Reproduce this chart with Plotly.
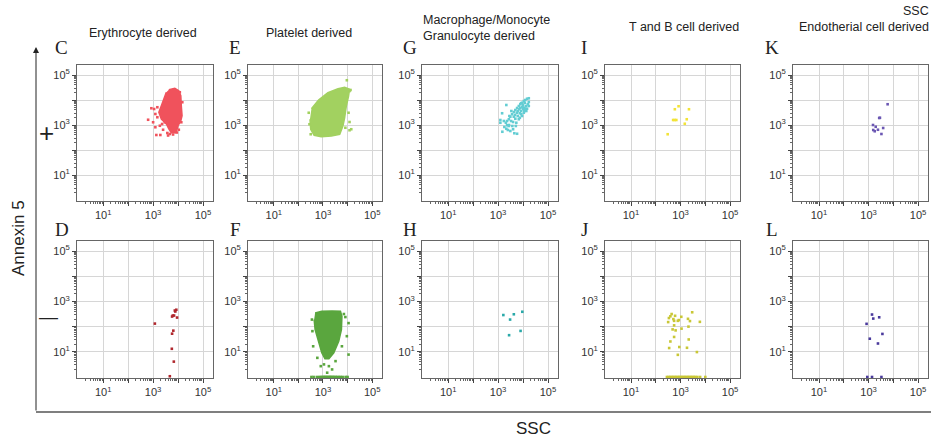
import plotly.graph_objects as go

# ---------------- data (log10 of SSC / Annexin 5) ----------------
# C  Erythrocyte derived, Annexin+ : dense cloud outline + scattered events
c_cloud_ssc = [3.63, 3.87, 4.03, 4.11, 4.13, 4.16, 4.11, 4.00, 3.93, 3.73, 3.63, 3.53, 3.33, 3.23, 3.33, 3.44, 3.53]
c_cloud_ann = [4.41, 4.47, 4.37, 4.17, 3.77, 3.37, 3.17, 2.97, 2.73, 2.68, 2.84, 3.04, 3.24, 3.51, 3.77, 4.04, 4.31]
c_pts_ssc = [2.80, 2.93, 3.04, 3.09, 3.17, 3.09, 3.13, 3.29, 3.27, 3.40, 3.47, 3.57, 3.67, 3.87, 4.03, 4.13, 4.17, 4.07, 3.17, 3.31, 3.00, 3.36, 3.80, 3.95, 3.60]
c_pts_ann = [3.21, 3.67, 3.64, 3.44, 3.31, 2.91, 2.60, 2.60, 2.97, 2.81, 3.11, 2.68, 2.64, 2.71, 2.81, 3.11, 3.91, 4.31, 3.71, 3.53, 3.11, 3.04, 2.62, 2.70, 2.58]

# D  Erythrocyte derived, Annexin-
d_ssc = [3.07, 3.87, 3.93, 3.89, 3.79, 3.84, 3.76, 3.96, 3.81, 3.76, 3.75, 3.83, 3.67]
d_ann = [2.12, 2.64, 2.67, 2.60, 2.44, 2.44, 2.40, 2.36, 1.84, 1.72, 1.12, 0.61, 0.03]

# E  Platelet derived, Annexin+
e_cloud_ssc = [2.53, 2.82, 3.20, 3.61, 3.88, 4.08, 4.04, 3.95, 3.88, 3.81, 3.68, 3.34, 2.93, 2.64, 2.50, 2.47]
e_cloud_ann = [3.65, 4.00, 4.29, 4.45, 4.51, 4.43, 4.16, 3.76, 3.29, 2.96, 2.63, 2.56, 2.53, 2.59, 2.83, 3.23]
e_pts_ssc = [3.97, 4.08, 4.04, 4.08, 4.15, 4.08, 2.42, 2.45, 2.50, 3.95, 3.91, 4.12]
e_pts_ann = [4.79, 4.36, 3.49, 3.12, 2.83, 2.79, 3.49, 3.03, 2.63, 4.03, 2.89, 4.40]

# F  Platelet derived, Annexin-
f_cloud_ssc = [2.68, 2.95, 3.37, 3.71, 3.77, 3.75, 3.64, 3.44, 3.24, 3.08, 2.95, 2.81, 2.68, 2.64]
f_cloud_ann = [2.54, 2.61, 2.62, 2.61, 2.41, 1.88, 1.42, 0.96, 0.72, 0.72, 0.96, 1.42, 1.88, 2.28]
f_pts_ssc = [2.55, 2.57, 2.60, 4.04, 3.97, 3.91, 4.04, 3.04, 3.24, 3.37, 3.17, 3.51, 2.91, 3.77, 2.77, 3.85,
             2.53, 2.62, 2.75, 2.85, 2.92, 2.98, 3.03, 3.08, 3.12, 3.17, 3.22, 3.27, 3.31, 3.36, 3.41, 3.46,
             3.52, 3.58, 3.65, 3.72, 3.80, 3.92, 4.00]
f_pts_ann = [2.28, 1.82, 1.22, 2.14, 1.62, 2.38, 0.89, 0.50, 0.43, 0.30, 0.17, 0.63, 0.43, 1.22, 0.76, 2.50,
             0, 0, 0, 0, 0, 0, 0, 0, 0, 0, 0, 0, 0, 0, 0, 0,
             0, 0, 0, 0, 0, 0, 0]

# G  Macrophage/Monocyte Granulocyte derived, Annexin+
g_ssc = [3.33, 3.16, 3.09, 3.09, 3.17, 3.33, 3.36, 3.31, 3.43, 3.49, 3.56, 3.63, 3.69, 3.76, 3.83, 3.89, 3.96, 4.03,
         4.09, 4.16, 4.23, 3.65, 3.76, 3.49, 3.39, 3.25, 3.23, 3.60, 3.69, 3.79, 3.87, 3.92, 4.00, 4.05, 4.12, 4.19,
         4.13, 4.03, 3.96, 3.83, 3.73, 3.57, 3.44, 3.89, 3.75, 3.63, 3.52, 3.43, 4.00, 4.07, 4.23, 4.16, 3.93, 3.79,
         3.85, 3.68, 3.53, 3.87, 4.05, 3.97, 3.71, 3.36, 3.60, 3.45, 4.23, 3.92, 4.09]
g_ann = [3.80, 3.47, 3.20, 3.09, 2.73, 2.85, 2.99, 3.09, 3.23, 3.33, 3.43, 3.52, 3.60, 3.68, 3.76, 3.83, 3.89, 3.96,
         4.00, 4.05, 4.07, 2.67, 2.65, 2.76, 2.80, 2.92, 3.16, 3.12, 3.25, 3.36, 3.47, 3.56, 3.63, 3.69, 3.76, 3.83,
         3.56, 3.49, 3.36, 3.23, 3.09, 2.96, 3.00, 3.69, 3.49, 3.33, 3.16, 2.96, 3.79, 3.89, 3.92, 3.65, 3.43, 3.56,
         3.63, 3.40, 3.56, 3.29, 3.56, 3.72, 2.96, 3.16, 2.83, 3.36, 3.76, 3.87, 3.65]

# H  Macrophage/Monocyte Granulocyte derived, Annexin-
h_ssc = [3.21, 3.63, 3.48, 3.97, 3.90, 3.44]
h_ann = [2.46, 2.49, 2.28, 2.59, 1.83, 1.66]

# I  T and B cell derived, Annexin+
i_ssc = [2.92, 2.77, 3.34, 2.76, 2.83, 2.70, 3.25, 3.17, 2.48]
i_ann = [3.75, 3.63, 3.63, 3.20, 3.20, 3.20, 3.23, 3.05, 2.63]

# J  T and B cell derived, Annexin-
j_ssc = [2.64, 2.59, 2.53, 2.50, 2.71, 2.78, 2.74, 2.89, 2.93, 3.03, 3.30, 3.38, 3.47, 3.78, 2.74, 3.32, 2.68,
         2.80, 3.04, 2.74, 2.59, 3.33, 2.54, 2.95, 3.26, 2.89, 3.66,
         2.45, 2.52, 2.58, 2.64, 2.70, 2.76, 2.82, 2.88, 2.94, 3.00, 3.06, 3.12, 3.18, 3.24, 3.30, 3.36, 3.42,
         3.48, 3.54, 3.60, 3.68, 3.79, 4.00]
j_ann = [2.50, 2.41, 2.34, 2.18, 2.30, 2.43, 2.23, 2.23, 2.26, 2.39, 2.31, 2.22, 2.57, 2.19, 2.05, 2.00, 1.89,
         1.85, 1.92, 1.59, 1.41, 1.49, 1.15, 1.19, 1.16, 0.88, 0.99,
         0, 0, 0, 0, 0, 0, 0, 0, 0, 0, 0, 0, 0, 0, 0, 0, 0,
         0, 0, 0, 0, 0, 0]

# K  Endotherial cell derived, Annexin+
k_ssc = [3.77, 3.43, 3.46, 3.18, 3.29, 3.38, 3.19, 3.25, 3.59, 3.52]
k_ann = [3.83, 3.28, 3.29, 3.00, 2.93, 2.81, 2.80, 2.75, 2.88, 2.64]

# L  Endotherial cell derived, Annexin-
l_ssc = [3.14, 3.19, 3.43, 2.92, 3.56, 3.05, 3.38, 2.95, 3.14, 3.52]
l_ann = [2.48, 2.32, 2.37, 2.11, 1.71, 1.52, 1.33, 0, 0, 0]

titles = ["Erythrocyte derived", "Platelet derived", "Macrophage/Monocyte<br>Granulocyte derived",
          "T and B cell derived", "Endotherial cell derived"]
top_letters = ["C", "E", "G", "I", "K"]
bottom_letters = ["D", "F", "H", "J", "L"]
tick_vals = [10, 100, 1000, 10000, 100000]
tick_text = ["10<sup>1</sup>", "", "10<sup>3</sup>", "", "10<sup>5</sup>"]

# ---------------- figure ----------------
W, H = 931, 438
def fx(x): return x / W
def fy(y): return 1 - y / H

cols = [(77, 213), (248, 382), (422, 558), (605, 740), (793, 928)]
rows = [(65, 201), (241, 378)]

SANS = "Arial, Liberation Sans, sans-serif"
SERIF = "Times New Roman, Liberation Serif, serif"

fig = go.Figure()

def lin(v):
    return [10 ** a for a in v]

panels = [
    (0, 0, c_cloud_ssc, c_cloud_ann, c_pts_ssc, c_pts_ann, "#f0525c"),
    (1, 0, None, None, d_ssc, d_ann, "#b0282e"),
    (0, 1, e_cloud_ssc, e_cloud_ann, e_pts_ssc, e_pts_ann, "#a2d160"),
    (1, 1, f_cloud_ssc, f_cloud_ann, f_pts_ssc, f_pts_ann, "#5aa63e"),
    (0, 2, None, None, g_ssc, g_ann, "#63cdd3"),
    (1, 2, None, None, h_ssc, h_ann, "#2aa9a9"),
    (0, 3, None, None, i_ssc, i_ann, "#f2e337"),
    (1, 3, None, None, j_ssc, j_ann, "#c9c736"),
    (0, 4, None, None, k_ssc, k_ann, "#6b57b3"),
    (1, 4, None, None, l_ssc, l_ann, "#4a3a9c"),
]

minor_vals = [k * 10 ** d for d in range(0, 5) for k in range(2, 10)]

for idx, (r, c, cx, cy, px_, py_, col) in enumerate(panels):
    n = idx + 1
    xa = "x" if n == 1 else f"x{n}"
    ya = "y" if n == 1 else f"y{n}"
    if cx is not None:
        fig.add_trace(go.Scatter(x=lin(cx), y=lin(cy), xaxis=xa, yaxis=ya, mode="lines",
                                 fill="toself", fillcolor=col, line=dict(color=col, width=1.5),
                                 hoverinfo="skip", showlegend=False))
    fig.add_trace(go.Scatter(x=lin(px_), y=lin(py_), xaxis=xa, yaxis=ya, mode="markers",
                             marker=dict(symbol="square", size=2.6, color=col, line=dict(width=0)),
                             showlegend=False))
    axis_common = dict(type="log", showgrid=True, gridcolor="#d6d6d6", gridwidth=1,
                       showline=True, linecolor="#666666", linewidth=1, mirror=True,
                       ticks="outside", ticklen=4, tickcolor="#444444", tickwidth=1,
                       tickvals=tick_vals, ticktext=tick_text,
                       tickfont=dict(family=SANS, size=11, color="#333333"),
                       zeroline=False, fixedrange=True,
                       minor=dict(tickvals=minor_vals, ticks="outside", ticklen=2,
                                  tickcolor="#666666", showgrid=False))
    x0, x1 = cols[c]
    y0, y1 = rows[r]
    fig.layout["xaxis" if n == 1 else f"xaxis{n}"] = dict(
        axis_common, domain=[fx(x0), fx(x1)], range=[-0.05, 5.4], anchor=ya)
    fig.layout["yaxis" if n == 1 else f"yaxis{n}"] = dict(
        axis_common, domain=[fy(y1), fy(y0)], range=[-0.04, 5.4], anchor=xa, ticklabelstandoff=0)

annotations = []
title_pos = [(143, 33, "center"), (309, 33, "center"), (421, 28, "left"), (684, 27, "center"), (931, 27, "right")]
for t, (x, y, al) in zip(titles, title_pos):
    annotations.append(dict(text=t, x=fx(x), y=fy(y), xref="paper", yref="paper", showarrow=False,
                            xanchor=al, yanchor="middle", align=al,
                            font=dict(family=SANS, size=12.5, color="#222222")))
annotations.append(dict(text="SSC", x=fx(931), y=fy(11), xref="paper", yref="paper", showarrow=False,
                        xanchor="right", yanchor="middle", font=dict(family=SANS, size=12.5, color="#222222")))
letter_x = [62, 235, 410, 584, 772]
for L, x in zip(top_letters, letter_x):
    annotations.append(dict(text=L, x=fx(x), y=fy(47), xref="paper", yref="paper", showarrow=False,
                            xanchor="center", yanchor="middle", font=dict(family=SERIF, size=19, color="#222222")))
for L, x in zip(bottom_letters, letter_x):
    annotations.append(dict(text=L, x=fx(x), y=fy(229), xref="paper", yref="paper", showarrow=False,
                            xanchor="center", yanchor="middle", font=dict(family=SERIF, size=19, color="#222222")))
# + / - row markers
annotations.append(dict(text="+", x=fx(46), y=fy(133), xref="paper", yref="paper", showarrow=False,
                        xanchor="center", yanchor="middle", font=dict(family=SANS, size=26, color="#222222")))
annotations.append(dict(text="—", x=fx(48), y=fy(316), xref="paper", yref="paper", showarrow=False,
                        xanchor="center", yanchor="middle", font=dict(family=SANS, size=19, color="#222222")))
annotations.append(dict(text="Annexin 5", x=fx(18), y=fy(238), xref="paper", yref="paper", showarrow=False,
                        textangle=-90, xanchor="center", yanchor="middle",
                        font=dict(family=SANS, size=17, color="#222222")))
annotations.append(dict(text="SSC", x=fx(533), y=fy(428), xref="paper", yref="paper", showarrow=False,
                        xanchor="center", yanchor="middle", font=dict(family=SANS, size=17, color="#222222")))
annotations.append(dict(text="", x=fx(36), y=fy(47), xref="paper", yref="paper", showarrow=True,
                        ax=0, ay=365, arrowhead=2, arrowsize=1.2, arrowwidth=1, arrowcolor="#222222"))

fig.update_layout(
    width=W, height=H, margin=dict(l=0, r=0, t=0, b=0),
    paper_bgcolor="white", plot_bgcolor="white",
    annotations=annotations,
    shapes=[dict(type="line", xref="paper", yref="paper", x0=fx(36), x1=fx(931), y0=fy(412), y1=fy(412),
                 line=dict(color="#555555", width=1.5))],
)

fig.write_html("out.html")
